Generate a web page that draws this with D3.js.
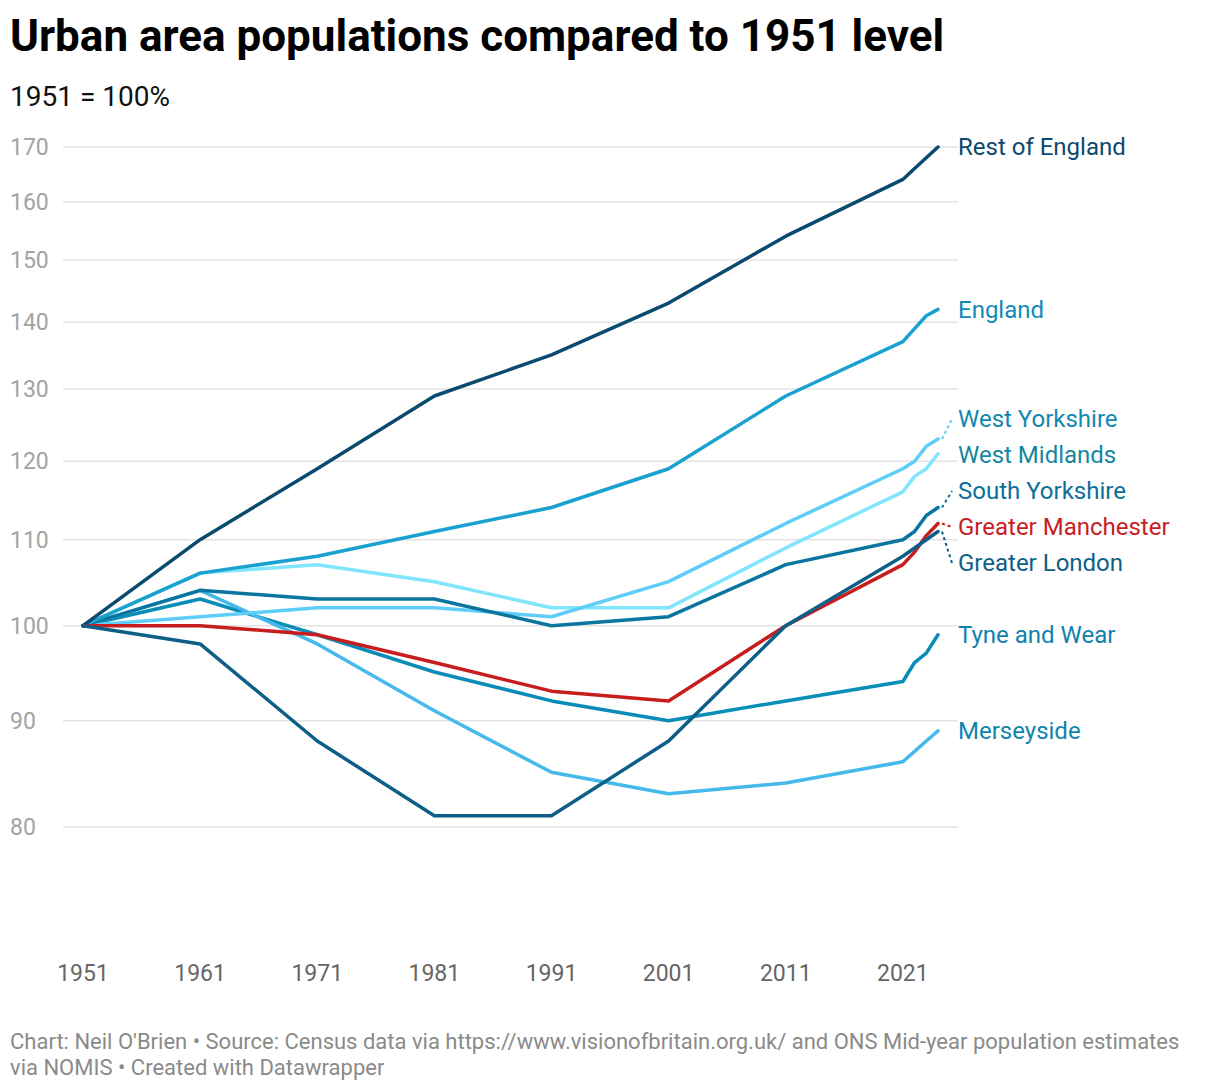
<!DOCTYPE html>
<html>
<head>
<meta charset="utf-8">
<script src="https://cdn.jsdelivr.net/npm/d3@7"></script>
<style>
  body { margin: 0; background: #fff; font-family: Roboto, "Noto Sans", sans-serif; }
  svg text { font-family: Roboto, "Noto Sans", sans-serif; }
</style>
</head>
<body>
<div id="vis"></div>
<script>
/*************************** data ************************************/
var years = [1951, 1961, 1971, 1981, 1991, 2001, 2011, 2021, 2022, 2023, 2024];
var yTicks = [80, 90, 100, 110, 120, 130, 140, 150, 160, 170];
var xTicks = [1951, 1961, 1971, 1981, 1991, 2001, 2011, 2021];

var restOfEngland     = [100, 110, 119, 129, 135, 143, 154, 164, 166, 168, 170];
var england           = [100, 106, 108, 111, 114, 119, 129, 137, 139, 141, 142];
var westYorkshire     = [100, 101, 102, 102, 101, 105, 112, 119, 120, 122, 123];
var westMidlands      = [100, 106, 107, 105, 102, 102, 109, 116, 118, 119, 121];
var southYorkshire    = [100, 104, 103, 103, 100, 101, 107, 110, 111, 113, 114];
var greaterManchester = [100, 100, 99, 96, 93, 92, 100, 107, 108.5, 110.5, 112];
var greaterLondon     = [100, 98, 88, 81, 81, 88, 100, 108, 109, 110, 111];
var tyneAndWear       = [100, 103, 99, 95, 92, 90, 92, 94, 96, 97, 99];
var merseyside        = [100, 104, 98, 91, 85, 83, 84, 86, 87, 88, 89];

var seriesNames = ["Rest of England", "England", "West Yorkshire", "West Midlands",
    "South Yorkshire", "Greater Manchester", "Greater London", "Tyne and Wear", "Merseyside"];
var seriesValues = [restOfEngland, england, westYorkshire, westMidlands,
    southYorkshire, greaterManchester, greaterLondon, tyneAndWear, merseyside];
var lineColors  = ["#0b4a6f", "#1aa1d0", "#5ecdf7", "#80e5fd", "#0a76a0",
    "#c71e1d", "#0d5f88", "#0a8cb8", "#45baea"];
var labelColors = ["#0b4a6f", "#1289b8", "#1288b0", "#14879f", "#0b6f99",
    "#c8201f", "#0d5f88", "#0e82ad", "#0f84ad"];

/*************************** layout ************************************/
var W = 1220, H = 1090;

var svg = d3.select("div#vis").append("svg")
    .attr("width", W)
    .attr("height", H);

var x = d3.scaleLinear().domain([1951, 2024]).range([83, 938]);
var y = d3.scaleLog().domain([80, 170]).range([827, 147]);

// title + subtitle
svg.append("text")
    .attr("x", 10).attr("y", 51)
    .attr("font-size", 44).attr("font-weight", 700).attr("fill", "#000")
    .text("Urban area populations compared to 1951 level");

svg.append("text")
    .attr("x", 10).attr("y", 106)
    .attr("font-size", 28).attr("fill", "#111")
    .text("1951 = 100%");

// grid + y labels
var grid = svg.append("g");
grid.selectAll("line")
    .data(yTicks)
  .enter().append("line")
    .attr("x1", 63).attr("x2", 958)
    .attr("y1", function(d) { return y(d); })
    .attr("y2", function(d) { return y(d); })
    .attr("stroke", "#e3e3e3")
    .attr("stroke-width", 1.5);

grid.selectAll("text")
    .data(yTicks)
  .enter().append("text")
    .attr("x", 10)
    .attr("y", function(d) { return y(d); })
    .attr("dy", "0.35em")
    .attr("font-size", 23)
    .attr("fill", "#a3a3a3")
    .text(function(d) { return d; });

// x axis labels
svg.append("g").selectAll("text")
    .data(xTicks)
  .enter().append("text")
    .attr("x", function(d) { return x(d); })
    .attr("y", 973)
    .attr("dy", "0.35em")
    .attr("text-anchor", "middle")
    .attr("font-size", 23)
    .attr("fill", "#666")
    .text(function(d) { return d; });

// lines
var line = d3.line()
    .x(function(d, i) { return x(years[i]); })
    .y(function(d) { return y(d); });

var order = [7, 8, 3, 2, 4, 1, 0, 5, 6]; // drawing order, red + London on top
svg.append("g").selectAll("path")
    .data(order)
  .enter().append("path")
    .attr("d", function(k) { return line(seriesValues[k]); })
    .attr("fill", "none")
    .attr("stroke", function(k) { return lineColors[k]; })
    .attr("stroke-width", 3.5)
    .attr("stroke-linejoin", "round")
    .attr("stroke-linecap", "round");

/*************************** end labels ************************************/
var labels = seriesNames.map(function(name, k) {
    var v = seriesValues[k];
    var endY = y(v[v.length - 1]);
    return { k: k, name: name, endY: endY, ly: endY };
});

// push overlapping labels apart
var gap = 36;
labels.sort(function(a, b) { return a.endY - b.endY; });
for (var iter = 0; iter < 200; iter++) {
    var moved = false;
    for (var i = 1; i < labels.length; i++) {
        var d = labels[i].ly - labels[i - 1].ly;
        if (d < gap) {
            var s = (gap - d) / 2;
            labels[i].ly += s;
            labels[i - 1].ly -= s;
            moved = true;
        }
    }
    if (!moved) break;
}

var endX = x(2024);
var lab = svg.append("g").selectAll("g")
    .data(labels)
  .enter().append("g");

lab.filter(function(d) { return Math.abs(d.ly - d.endY) > 1.5; })
  .append("line")
    .attr("x1", endX + 4)
    .attr("y1", function(d) { return d.endY; })
    .attr("x2", 952)
    .attr("y2", function(d) { return d.ly; })
    .attr("stroke", function(d) { return lineColors[d.k]; })
    .attr("stroke-width", 2)
    .attr("stroke-dasharray", "3,3");

lab.append("text")
    .attr("x", 958)
    .attr("y", function(d) { return d.ly; })
    .attr("dy", "0.35em")
    .attr("font-size", 24)
    .attr("fill", function(d) { return labelColors[d.k]; })
    .text(function(d) { return d.name; });

/*************************** footer ************************************/
var foot = svg.append("text")
    .attr("x", 10).attr("y", 1041)
    .attr("font-size", 22).attr("fill", "#8a8a8a");
foot.append("tspan").attr("x", 10).attr("dy", "0.35em")
    .text("Chart: Neil O'Brien \u2022 Source: Census data via https://www.visionofbritain.org.uk/ and ONS Mid-year population estimates");
foot.append("tspan").attr("x", 10).attr("dy", 26)
    .text("via NOMIS \u2022 Created with Datawrapper");
</script>
</body>
</html>
